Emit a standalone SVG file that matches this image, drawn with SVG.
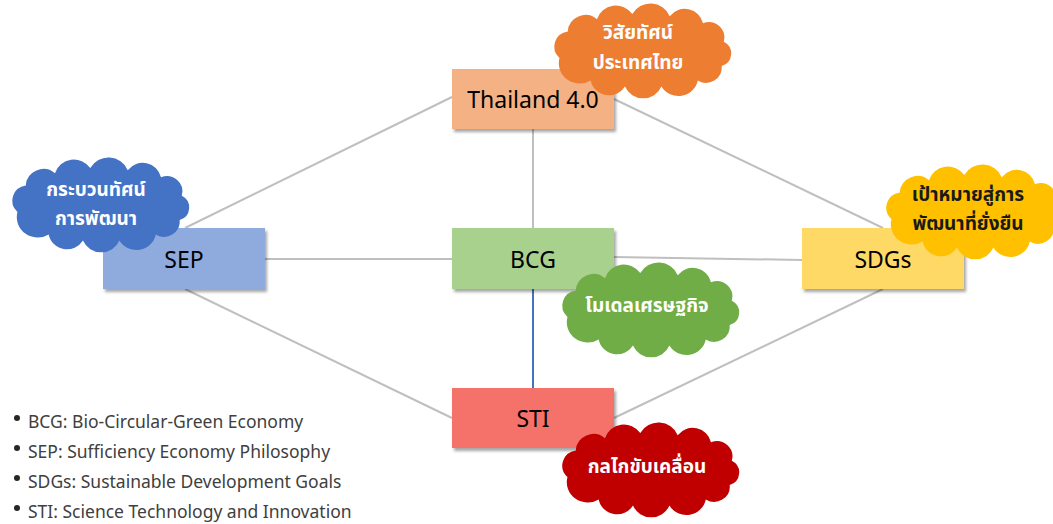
<svg xmlns="http://www.w3.org/2000/svg" width="1053" height="524" viewBox="0 0 1053 524">
<style>
.box{stroke:none;filter:url(#sh)}
.lbl{font-family:"Noto Sans","Open Sans",sans-serif;font-size:23px;fill:#000;text-anchor:middle;dominant-baseline:central}
.ct{font-family:"Noto Sans","Noto Sans Thai",sans-serif;font-size:19px;font-weight:bold;fill:#fff;text-anchor:middle}
.ctd{fill:#1a1a1a}
.con{stroke:#BFBFBF;stroke-width:2;fill:none}
.leg{font-family:"Noto Sans","Open Sans",sans-serif;font-size:17.5px;fill:#404040}
</style>
<defs>
<filter id="sh" x="-10%" y="-10%" width="130%" height="140%">
<feDropShadow dx="2" dy="3" stdDeviation="1.5" flood-color="#000" flood-opacity="0.35"/>
</filter>
<path id="cloud" d="M12,48 A15,15 0 0 1 20,22 A17,17 0 0 1 48,10 A19,19 0 0 1 82,5 A20,20 0 0 1 118,7 A18,18 0 0 1 150,14 A15,15 0 0 1 170,32 A13,13 0 0 1 168,56 A15,15 0 0 1 145,70 A19,19 0 0 1 110,76 A19,19 0 0 1 75,76 A18,18 0 0 1 42,70 A20,20 0 0 1 12,48 Z"/>
</defs>
<g id="connectors">
<line class="con" x1="533" y1="129" x2="533" y2="228"/>
<line class="con" x1="452" y1="97" x2="185" y2="228"/>
<line class="con" x1="614" y1="99" x2="883" y2="228"/>
<line class="con" x1="265" y1="259" x2="452" y2="259"/>
<line class="con" x1="614" y1="257" x2="802" y2="260"/>
<line class="con" x1="185" y1="289" x2="452" y2="418"/>
<line class="con" x1="614" y1="418" x2="883" y2="289"/>
<line x1="533" y1="289" x2="533" y2="388" stroke="#4472C4" stroke-width="2"/>
</g>
<g id="thailand">
<rect class="box" x="452" y="69" width="162" height="60" fill="#F4B183"/>
<text class="lbl" x="533" y="99">Thailand 4.0</text>
</g>
<g id="sep">
<rect class="box" x="103" y="228" width="162" height="61" fill="#8FAADC"/>
<text class="lbl" x="184" y="259">SEP</text>
</g>
<g id="bcg">
<rect class="box" x="452" y="228" width="162" height="61" fill="#A9D18E"/>
<text class="lbl" x="533" y="259">BCG</text>
</g>
<g id="sdgs">
<rect class="box" x="802" y="228" width="162" height="61" fill="#FFD966"/>
<text class="lbl" x="883" y="259">SDGs</text>
</g>
<g id="sti">
<rect class="box" x="452" y="388" width="162" height="60" fill="#F4726B"/>
<text class="lbl" x="533" y="418">STI</text>
</g>
<g id="cloud-vision">
<use href="#cloud" transform="translate(547,9) scale(1.04,1.02)" fill="#ED7D31"/>
<text class="ct" x="638" y="39">วิสัยทัศน์</text>
<text class="ct" x="638" y="69">ประเทศไทย</text>
</g>
<g id="cloud-paradigm">
<use href="#cloud" transform="translate(5,163) scale(1.04,1.02)" fill="#4472C4"/>
<text class="ct" x="96" y="196">กระบวนทัศน์</text>
<text class="ct" x="96" y="225">การพัฒนา</text>
</g>
<g id="cloud-goal">
<use href="#cloud" transform="translate(879,170) scale(1.04,1.02)" fill="#FFC000"/>
<text class="ct ctd" x="968" y="201">เป้าหมายสู่การ</text>
<text class="ct ctd" x="968" y="230">พัฒนาที่ยั่งยืน</text>
</g>
<g id="cloud-model">
<use href="#cloud" transform="translate(555,268) scale(1.04,1.02)" fill="#70AD47"/>
<text class="ct" x="647" y="312">โมเดลเศรษฐกิจ</text>
</g>
<g id="cloud-driver">
<use href="#cloud" transform="translate(555,428) scale(1.04,1.02)" fill="#C00000"/>
<text class="ct" x="647" y="473">กลไกขับเคลื่อน</text>
</g>
<g id="legend">
<circle cx="17" cy="418" r="3" fill="#262626"/>
<text class="leg" x="28" y="428">BCG: Bio-Circular-Green Economy</text>
<circle cx="17" cy="448" r="3" fill="#262626"/>
<text class="leg" x="28" y="458">SEP: Sufficiency Economy Philosophy</text>
<circle cx="17" cy="478" r="3" fill="#262626"/>
<text class="leg" x="28" y="488">SDGs: Sustainable Development Goals</text>
<circle cx="17" cy="508" r="3" fill="#262626"/>
<text class="leg" x="28" y="518">STI: Science Technology and Innovation</text>
</g>
</svg>
